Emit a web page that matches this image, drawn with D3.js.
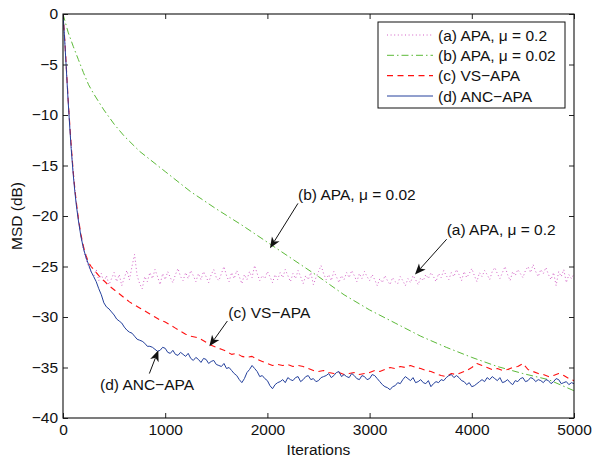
<!DOCTYPE html>
<html><head><meta charset="utf-8">
<script src="https://cdn.jsdelivr.net/npm/d3@7"></script>
<style>body{margin:0;background:#fff} text{font-family:"Liberation Sans",Arial,Helvetica,sans-serif;fill:#111;}</style>
</head><body><svg id="c" width="595" height="459"></svg>
<script>
// ---------- data ----------
const xTicks = [0, 1000, 2000, 3000, 4000, 5000];
const yTicks = [0, -5, -10, -15, -20, -25, -30, -35, -40];
const seriesNames = ["(a) APA, \u03bc = 0.2", "(b) APA, \u03bc = 0.02", "(c) VS\u2212APA", "(d) ANC\u2212APA"];

// (a) APA mu=0.2 : early knots then samples every 25 iterations from 275
const itA0 = [0, 10, 20, 30, 40, 50, 60, 70, 80, 90, 100, 115, 130, 150, 175, 200, 225, 250];
const msdA0 = [0, -1.4, -3.1, -4.9, -6.7, -8.5, -10.1, -11.6, -13.1, -14.4, -15.7, -17.3, -18.7, -20.3, -22.0, -23.3, -24.3, -25.0];
const startA = 275, stepA = 25;
const msdA = [
 -25.5,-26.0,-25.3,-26.4,-25.7,-26.6,-25.9,-26.8,-26.2,-25.6,
 -26.5,-25.8,-26.9,-26.1,-25.4,-26.3,-25.0,-23.8,-25.9,-26.7,
 -27.2,-26.0,-26.5,-25.6,-26.2,-25.3,-26.0,-26.8,-25.7,-26.3,
 -25.5,-26.1,-26.6,-25.8,-25.2,-26.0,-26.4,-25.6,-26.2,-25.4,
 -25.9,-26.5,-25.7,-26.3,-25.5,-26.0,-26.6,-25.8,-25.3,-26.1,
 -26.4,-25.7,-25.0,-25.9,-26.5,-25.6,-26.2,-25.4,-26.0,-26.7,
 -25.8,-26.3,-25.5,-26.1,-24.9,-25.7,-26.4,-25.9,-26.2,-25.5,
 -26.0,-26.6,-25.8,-26.3,-25.6,-26.1,-25.3,-25.9,-26.5,-25.7,
 -26.2,-25.4,-26.0,-26.7,-25.9,-26.3,-25.6,-26.8,-26.1,-25.5,
 -24.9,-25.7,-26.3,-25.8,-26.4,-25.5,-26.0,-26.6,-25.9,-26.3,
 -25.6,-26.1,-25.4,-25.9,-26.5,-25.7,-26.2,-25.5,-26.0,-26.4,
 -25.8,-26.3,-26.9,-26.2,-26.6,-25.9,-26.4,-26.8,-26.1,-26.5,
 -26.7,-26.0,-26.4,-26.9,-26.2,-26.6,-25.9,-26.3,-26.8,-26.1,
 -26.4,-25.8,-26.2,-25.6,-26.0,-26.5,-25.7,-26.1,-25.4,-25.9,
 -26.3,-25.6,-26.0,-25.3,-25.8,-26.4,-25.5,-26.1,-25.7,-25.2,
 -25.9,-26.5,-25.6,-26.0,-25.4,-25.8,-26.3,-25.5,-25.1,-25.7,
 -26.2,-25.6,-25.0,-25.8,-26.4,-25.5,-25.9,-25.3,-25.7,-26.1,
 -25.4,-25.0,-25.6,-24.8,-25.5,-26.0,-25.3,-25.7,-25.1,-25.8,
 -26.3,-25.6,-26.9,-25.5,-26.0,-25.3,-26.6,-25.8,-26.2,-25.7
];

// (b) APA mu=0.02
const itB = [0, 50, 100, 150, 200, 250, 300, 400, 500, 600, 750, 900, 1000, 1250, 1500, 1750, 2000, 2250, 2500, 2750, 3000, 3250, 3500, 3750, 4000, 4250, 4500, 4750, 5000];
const msdB = [0, -1.8, -3.2, -4.5, -5.8, -7.0, -7.9, -9.5, -10.9, -12.1, -13.6, -14.8, -15.6, -17.6, -19.3, -20.9, -22.6, -24.3, -26.0, -27.8, -29.3, -30.6, -31.9, -33.0, -34.0, -34.9, -35.6, -36.2, -37.3];

// (c) VS-APA
const itC0 = [0, 10, 20, 30, 40, 50, 60, 70, 80, 90, 100, 115, 130, 150, 175, 200, 225, 250, 275, 300, 350, 400, 450];
const msdC0 = [0, -1.4, -3.0, -4.8, -6.6, -8.4, -10.0, -11.5, -13.0, -14.3, -15.6, -17.2, -18.6, -20.2, -21.8, -23.0, -23.9, -24.6, -25.0, -25.3, -25.9, -26.4, -26.9];
const startC = 500, stepC = 50;
const msdC = [
 -27.3,-27.7,-28.1,-28.5,-28.8,-29.1,-29.4,-29.7,-30.0,-30.3,
 -30.5,-30.8,-31.1,-31.4,-31.7,-31.9,-32.0,-32.2,-32.5,-32.8,
 -33.0,-33.2,-33.4,-33.7,-33.6,-33.9,-34.0,-33.9,-34.2,-34.4,
 -34.6,-34.8,-34.7,-34.8,-34.7,-34.9,-34.8,-34.9,-35.1,-35.3,
 -35.4,-35.3,-35.5,-35.6,-35.5,-35.7,-35.6,-35.5,-35.7,-35.6,
 -35.5,-35.3,-35.4,-35.2,-35.0,-35.1,-34.9,-35.0,-34.8,-35.0,
 -35.1,-35.3,-35.4,-35.6,-35.8,-35.9,-35.6,-35.7,-35.5,-35.3,
 -35.0,-34.6,-34.8,-35.0,-35.2,-35.1,-35.3,-35.2,-35.0,-34.9,
 -34.6,-35.2,-35.4,-35.6,-35.7,-35.9,-35.8,-35.6,-35.8,-36.1,
 -36.3
];

// (d) ANC-APA
const itD0 = [0, 10, 20, 30, 40, 50, 60, 70, 80, 90, 100, 115, 130, 150, 175, 200, 225, 250, 275, 300, 325, 350, 375, 400, 425, 450, 475];
const msdD0 = [0, -1.5, -3.2, -5.0, -6.8, -8.6, -10.2, -11.8, -13.3, -14.6, -15.9, -17.5, -18.9, -20.4, -22.0, -23.2, -24.1, -24.8, -25.5, -26.0, -26.5, -27.2, -27.8, -28.6, -29.0, -29.2, -29.5];
const startD = 500, stepD = 25;
const msdD = [
 -29.8,-30.2,-30.4,-30.6,-31.0,-31.3,-31.5,-31.6,-31.9,-32.2,
 -32.3,-32.4,-32.6,-32.9,-32.9,-33.0,-33.2,-33.4,-33.3,-33.0,
 -33.1,-33.5,-33.6,-33.3,-33.7,-33.8,-33.5,-33.7,-33.9,-33.6,
 -34.1,-34.3,-34.0,-34.2,-34.5,-34.1,-34.2,-34.6,-34.4,-34.3,
 -34.7,-34.8,-34.9,-34.6,-35.1,-35.0,-35.3,-35.6,-35.8,-36.2,
 -36.5,-36.1,-35.5,-35.2,-34.8,-35.1,-35.4,-35.9,-35.8,-36.1,
 -36.3,-36.8,-37.1,-36.7,-36.5,-36.4,-36.2,-36.5,-36.0,-36.2,
 -36.3,-36.0,-35.9,-36.4,-36.2,-35.9,-35.8,-36.2,-36.1,-36.4,
 -36.3,-36.0,-35.9,-35.8,-35.6,-36.0,-35.8,-35.5,-35.4,-35.9,
 -35.7,-35.9,-36.0,-35.6,-35.8,-36.1,-36.2,-35.8,-35.9,-36.2,
 -36.1,-35.7,-35.8,-36.1,-36.4,-36.7,-36.9,-37.0,-37.2,-36.9,
 -36.8,-36.5,-36.6,-36.2,-35.9,-36.1,-36.3,-36.0,-36.5,-36.4,
 -36.2,-36.5,-36.6,-36.3,-36.9,-36.6,-36.4,-36.5,-36.2,-36.3,
 -36.0,-35.8,-35.7,-36.0,-35.8,-36.0,-36.3,-36.4,-36.7,-36.5,
 -36.9,-36.8,-36.6,-36.4,-36.2,-36.4,-36.0,-36.2,-35.9,-36.1,
 -36.3,-36.0,-36.5,-36.4,-36.2,-36.5,-36.7,-36.3,-36.4,-36.1,
 -36.0,-36.4,-36.3,-36.0,-36.1,-36.4,-36.2,-36.3,-36.5,-36.2,
 -36.3,-36.6,-36.4,-36.1,-36.2,-36.6,-36.5,-36.4,-36.7,-36.5,
 -36.6
];

// annotations (data coordinates)
const annLabels = ["(b) APA, \u03bc = 0.02", "(a) APA, \u03bc = 0.2", "(c) VS\u2212APA", "(d) ANC\u2212APA"];
const annTextIt = [2300, 3754, 1617, 362];
const annTextDb = [-18.4, -21.9, -30.1, -37.2];
const annTailIt = [2299, 3754, 1608, 845];
const annTailDb = [-18.75, -22.3, -30.4, -35.6];
const annTipIt = [2025, 3444, 1432, 933];
const annTipDb = [-23.2, -25.8, -32.9, -33.3];

// ---------- build ----------
function build(it0, v0, start, step, vals) {
  const pts = it0.map((t, i) => [t, v0[i]]);
  vals.forEach((v, i) => pts.push([start + i * step, v]));
  return pts;
}
const dataA = build(itA0, msdA0, startA, stepA, msdA);
const dataB = itB.map((t, i) => [t, msdB[i]]);
const dataC = build(itC0, msdC0, startC, stepC, msdC);
const dataD = build(itD0, msdD0, startD, stepD, msdD);

const L = 63, R = 574, T = 14, B = 418;
const x = d3.scaleLinear().domain([0, 5000]).range([L, R]);
const y = d3.scaleLinear().domain([-40, 0]).range([B, T]);
const svg = d3.select("#c");
svg.append("rect").attr("width", 595).attr("height", 459).attr("fill", "#fff");

svg.append("defs").append("clipPath").attr("id", "clip")
  .append("rect").attr("x", L).attr("y", T).attr("width", R - L).attr("height", B - T);

const styles = [
  {data: dataA, color: "#d35fc5", dash: "1,2.6", w: 1},
  {data: dataB, color: "#5cba38", dash: "7,3,1.5,3", w: 1},
  {data: dataC, color: "#ff1010", dash: "6,4.5", w: 1.1},
  {data: dataD, color: "#24409c", dash: null, w: 1}
];
const line = d3.line().x(d => x(d[0])).y(d => y(d[1]));
const g = svg.append("g").attr("clip-path", "url(#clip)");
styles.forEach(s => {
  g.append("path").datum(s.data).attr("d", line).attr("fill", "none")
    .attr("stroke", s.color).attr("stroke-width", s.w)
    .attr("stroke-dasharray", s.dash).attr("stroke-linejoin", "round");
});

// axes
const fmt = d => d < 0 ? "\u2212" + Math.abs(d) : String(d);
const fs = "15.5px";
const ax = svg.append("g").attr("transform", `translate(0,${B})`)
  .call(d3.axisBottom(x).tickValues(xTicks).tickSizeInner(-5).tickSizeOuter(0).tickPadding(6).tickFormat(d => String(d)));
const ay = svg.append("g").attr("transform", `translate(${L},0)`)
  .call(d3.axisLeft(y).tickValues(yTicks).tickSizeInner(-5).tickSizeOuter(0).tickPadding(5).tickFormat(fmt));
const at = svg.append("g").attr("transform", `translate(0,${T})`)
  .call(d3.axisTop(x).tickValues(xTicks).tickSizeInner(-5).tickSizeOuter(0).tickFormat(""));
const ar = svg.append("g").attr("transform", `translate(${R},0)`)
  .call(d3.axisRight(y).tickValues(yTicks).tickSizeInner(-5).tickSizeOuter(0).tickFormat(""));
[ax, ay, at, ar].forEach(a => {
  a.select(".domain").remove();
  a.selectAll("line").attr("stroke", "#222");
  a.selectAll("text").attr("font-size", fs).attr("fill", "#111")
    .style("font-family", '"Liberation Sans",Arial,Helvetica,sans-serif');
});
svg.append("rect").attr("x", L).attr("y", T).attr("width", R - L).attr("height", B - T)
  .attr("fill", "none").attr("stroke", "#111").attr("stroke-width", 1.1);

svg.append("text").attr("x", (L + R) / 2).attr("y", 455).attr("text-anchor", "middle")
  .attr("font-size", fs).text("Iterations");
svg.append("text").attr("transform", `translate(22,${(T + B) / 2}) rotate(-90)`)
  .attr("text-anchor", "middle").attr("font-size", fs).text("MSD (dB)");

// legend
const lg = svg.append("g");
lg.append("rect").attr("x", 378).attr("y", 22).attr("width", 187).attr("height", 86)
  .attr("fill", "#fff").attr("stroke", "#111").attr("stroke-width", 1);
const legY = [35, 55.3, 75.6, 96];
styles.forEach((s, i) => {
  lg.append("line").attr("x1", 387).attr("x2", 433).attr("y1", legY[i]).attr("y2", legY[i])
    .attr("stroke", s.color).attr("stroke-width", s.w).attr("stroke-dasharray", s.dash);
  lg.append("text").attr("x", 438).attr("y", legY[i]).attr("dy", "0.36em")
    .attr("font-size", fs).text(seriesNames[i]);
});

// annotations
annLabels.forEach((lab, i) => {
  svg.append("text").attr("x", x(annTextIt[i])).attr("y", y(annTextDb[i]))
    .attr("font-size", fs).text(lab);
  const x0 = x(annTailIt[i]), y0 = y(annTailDb[i]);
  const x1 = x(annTipIt[i]), y1 = y(annTipDb[i]);
  const dx = x1 - x0, dy = y1 - y0, len = Math.hypot(dx, dy);
  const ux = dx / len, uy = dy / len, nx = -uy, ny = ux;
  const HL = 11, HW = 4.5, NB = 3;
  svg.append("line").attr("x1", x0).attr("y1", y0)
    .attr("x2", x1 - ux * (HL - NB)).attr("y2", y1 - uy * (HL - NB))
    .attr("stroke", "#111").attr("stroke-width", 1);
  const pts = [
    [x1, y1],
    [x1 - ux * HL + nx * HW, y1 - uy * HL + ny * HW],
    [x1 - ux * (HL - NB), y1 - uy * (HL - NB)],
    [x1 - ux * HL - nx * HW, y1 - uy * HL - ny * HW]
  ];
  svg.append("path").attr("d", "M" + pts.map(p => p.join(",")).join("L") + "Z").attr("fill", "#111");
});
</script></body></html>
